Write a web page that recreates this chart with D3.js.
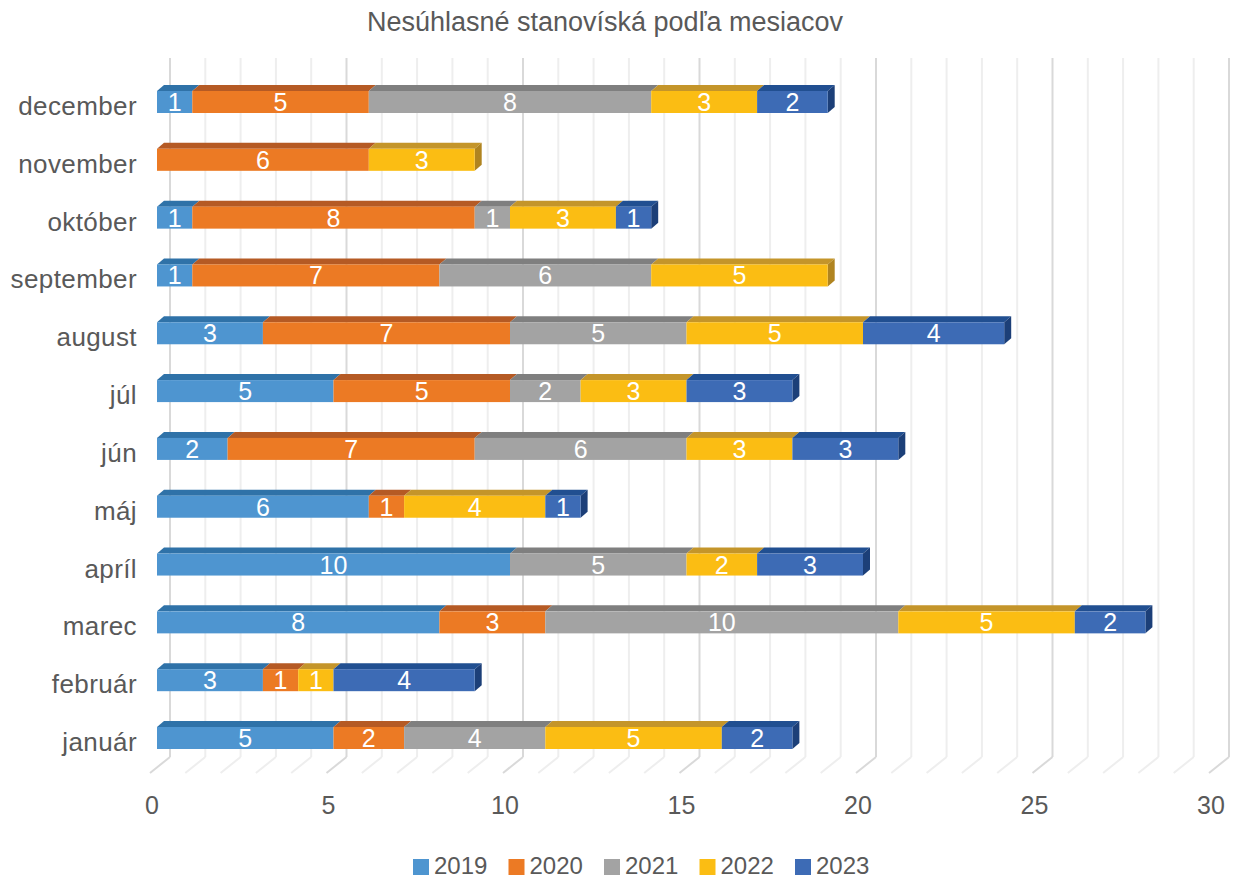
<!DOCTYPE html>
<html>
<head>
<meta charset="utf-8">
<script src="https://cdn.jsdelivr.net/npm/d3@7"></script>
<style>
  body { margin: 0; background: #fff; overflow: hidden; }
  text { font-family: "Liberation Sans", Arial, sans-serif; }
</style>
</head>
<body>
<div id="chart-area"></div>
<script>

// data
let months = ["december", "november", "október", "september", "august", "júl",
    "jún", "máj", "apríl", "marec", "február", "január"];
let years = ["2019", "2020", "2021", "2022", "2023"];

let v2019 = [1, 0, 1, 1, 3, 5, 2, 6, 10, 8, 3, 5];
let v2020 = [5, 6, 8, 7, 7, 5, 7, 1, 0, 3, 1, 2];
let v2021 = [8, 0, 1, 6, 5, 2, 6, 0, 5, 10, 0, 4];
let v2022 = [3, 3, 3, 5, 5, 3, 3, 4, 2, 5, 1, 5];
let v2023 = [2, 0, 1, 0, 4, 3, 3, 1, 3, 2, 4, 2];

let xTicks = [0, 5, 10, 15, 20, 25, 30];

let colors = ["#4e95d0", "#ec7a24", "#a3a3a3", "#fbbd13", "#3d6bb5"];
let topColors = ["#2f72a8", "#b55a24", "#7f7f7f", "#c4952a", "#214f91"];
let sideColors = ["#2a6496", "#a04f1e", "#6f6f6f", "#b08420", "#1c3f78"];

let data = months.map((m, i) => ({
    month: m,
    "2019": v2019[i], "2020": v2020[i], "2021": v2021[i], "2022": v2022[i], "2023": v2023[i]
}));

// SVG drawing area
let width = 1233, height = 880;

let svg = d3.select("#chart-area").append("svg")
    .attr("width", width)
    .attr("height", height)
    .style("display", "block");

// scales
let x = d3.scaleLinear().domain([0, 30]).range([157, 157 + 30 * 35.3]);
let y = d3.scalePoint().domain(months).range([102, 738]);

let barH = 22;
let depthX = 7, depthY = 6;     // bar depth
let wallDX = 13;                // back wall offset
let floorDX = -7;               // floor front offset
let wallTop = 58, wallBottom = 757, floorFront = 773;

// title
svg.append("text")
    .attr("x", 605)
    .attr("y", 31)
    .attr("text-anchor", "middle")
    .attr("font-size", 27)
    .attr("fill", "#595959")
    .text("Nesúhlasné stanovíská podľa mesiacov");

// gridlines on back wall + floor
let grid = svg.append("g").attr("class", "grid");
d3.range(0, 31).forEach(v => {
    let major = v % 5 === 0;
    let xb = x(v) + wallDX;
    let c = major ? "#d9d9d9" : "#eeeeee";
    grid.append("line")
        .attr("x1", xb).attr("x2", xb)
        .attr("y1", wallTop).attr("y2", wallBottom)
        .attr("stroke", c).attr("stroke-width", 2);
    grid.append("line")
        .attr("x1", xb).attr("y1", wallBottom)
        .attr("x2", x(v) + floorDX).attr("y2", floorFront)
        .attr("stroke", c).attr("stroke-width", 2);
});

// x axis labels
svg.append("g").selectAll("text")
    .data(xTicks)
    .enter().append("text")
    .attr("x", d => x(d) - 5)
    .attr("y", 814)
    .attr("text-anchor", "middle")
    .attr("font-size", 25)
    .attr("fill", "#595959")
    .text(d => d);

// category labels
svg.append("g").selectAll("text")
    .data(months)
    .enter().append("text")
    .attr("x", 137)
    .attr("y", d => y(d) + 13)
    .attr("text-anchor", "end")
    .attr("font-size", 26)
    .attr("letter-spacing", 0.4)
    .attr("fill", "#595959")
    .text(d => d);

// stacked 3D bars
let stack = d3.stack().keys(years);
let series = stack(data);

let bars = svg.append("g").attr("class", "bars");

data.forEach((row, i) => {
    let yc = y(row.month);
    let y0 = yc - barH / 2, y1 = yc + barH / 2;
    let lastIdx = -1;
    years.forEach((yr, k) => { if (row[yr] > 0) lastIdx = k; });

    years.forEach((yr, k) => {
        let seg = series[k][i];
        if (row[yr] === 0) return;
        let xa = x(seg[0]), xb = x(seg[1]);

        // top face
        bars.append("path")
            .attr("d", d3.line()([[xa, y0], [xb, y0], [xb + depthX, y0 - depthY], [xa + depthX, y0 - depthY]]))
            .attr("fill", topColors[k]);

        // side face only at bar end
        if (k === lastIdx) {
            bars.append("path")
                .attr("d", d3.line()([[xb, y0], [xb + depthX, y0 - depthY], [xb + depthX, y1 - depthY], [xb, y1]]))
                .attr("fill", sideColors[k]);
        }

        // front face
        bars.append("rect")
            .attr("x", xa).attr("y", y0)
            .attr("width", xb - xa).attr("height", barH)
            .attr("fill", colors[k]);

        bars.append("text")
            .attr("x", (xa + xb) / 2)
            .attr("y", yc + 9)
            .attr("text-anchor", "middle")
            .attr("font-size", 25)
            .attr("fill", "#ffffff")
            .text(row[yr]);
    });
});

// legend
let legend = svg.append("g").attr("class", "legend");
years.forEach((yr, k) => {
    let lx = 413 + k * 95.5;
    legend.append("rect")
        .attr("x", lx).attr("y", 859)
        .attr("width", 16).attr("height", 16)
        .attr("fill", colors[k]);
    legend.append("text")
        .attr("x", lx + 21).attr("y", 874)
        .attr("font-size", 24)
        .attr("fill", "#595959")
        .text(yr);
});

</script>
</body>
</html>
